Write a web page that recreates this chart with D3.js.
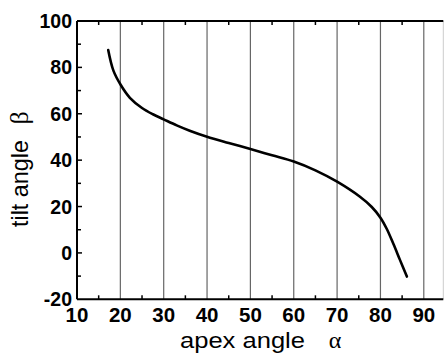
<!DOCTYPE html>
<html>
<head>
<meta charset="utf-8">
<script src="https://cdn.jsdelivr.net/npm/d3@7"></script>
<style>
  html, body { margin: 0; padding: 0; background: #fff; }
  svg { display: block; }
</style>
</head>
<body>
<svg id="chart" width="444" height="353"></svg>
<script>
// ---- data ----
const alpha = [17.2, 18.4, 20.1, 22.2, 25.0, 27.5, 30.0, 33.0, 36.0, 40.0, 45.0, 50.0, 55.0, 60.0, 65.0, 70.0, 75.2, 78.0, 80.0, 81.5, 83.0, 84.5, 86.1];
const beta  = [87.5, 78.6, 72.4, 66.9, 62.5, 59.8, 57.6, 55.0, 52.7, 50.1, 47.4, 44.8, 42.1, 39.4, 35.6, 30.7, 24.3, 19.8, 15.2, 10.2, 3.8, -3.0, -10.2];
const xTicks = [10, 20, 30, 40, 50, 60, 70, 80, 90];
const xMinor = [15, 25, 35, 45, 55, 65, 75, 85];
const yTicks = [-20, 0, 20, 40, 60, 80, 100];
const yMinor = [-10, 10, 30, 50, 70, 90];
const xTitle = "apex angle";
const xSym = "α";
const yTitle = "tilt angle";
const ySym = "β";

const svg = d3.select("#chart");
const x = d3.scaleLinear().domain([10, 94.5]).range([77, 443.3]);
const y = d3.scaleLinear().domain([-20, 100]).range([299.3, 21]);

// vertical grid lines
svg.append("g").selectAll("line").data(xTicks.filter(d => d > 10)).join("line")
  .attr("x1", d => x(d)).attr("x2", d => x(d))
  .attr("y1", y(100)).attr("y2", y(-20))
  .attr("stroke", "#666").attr("stroke-width", 1.2);

// right border (faint)
svg.append("line").attr("x1", x(94.5)).attr("x2", x(94.5))
  .attr("y1", y(100)).attr("y2", y(-20))
  .attr("stroke", "#ccc").attr("stroke-width", 1);

// minor ticks bottom & top
svg.append("g").selectAll("line").data(xMinor).join("line")
  .attr("x1", d => x(d)).attr("x2", d => x(d))
  .attr("y1", y(-20)).attr("y2", y(-20) - 4)
  .attr("stroke", "#000").attr("stroke-width", 1.5);
svg.append("g").selectAll("line").data(xMinor).join("line")
  .attr("x1", d => x(d)).attr("x2", d => x(d))
  .attr("y1", y(100)).attr("y2", y(100) + 4)
  .attr("stroke", "#000").attr("stroke-width", 1.5);

// left axis ticks
svg.append("g").selectAll("line").data(yTicks.filter(d => d > -20 && d < 100)).join("line")
  .attr("x1", x(10)).attr("x2", x(10) + 5)
  .attr("y1", d => y(d)).attr("y2", d => y(d))
  .attr("stroke", "#000").attr("stroke-width", 1.5);
svg.append("g").selectAll("line").data(yMinor).join("line")
  .attr("x1", x(10)).attr("x2", x(10) + 4)
  .attr("y1", d => y(d)).attr("y2", d => y(d))
  .attr("stroke", "#000").attr("stroke-width", 1.5);

// frame lines
svg.append("line").attr("x1", x(10)).attr("x2", x(94.5)).attr("y1", y(100)).attr("y2", y(100))
  .attr("stroke", "#000").attr("stroke-width", 2);
svg.append("line").attr("x1", x(10)).attr("x2", x(94.5)).attr("y1", y(-20)).attr("y2", y(-20))
  .attr("stroke", "#000").attr("stroke-width", 2);
svg.append("line").attr("x1", x(10)).attr("x2", x(10)).attr("y1", y(100)).attr("y2", y(-20))
  .attr("stroke", "#000").attr("stroke-width", 2);

// curve
const pts = alpha.map((a, i) => [a, beta[i]]);
svg.append("path").datum(pts)
  .attr("fill", "none").attr("stroke", "#000").attr("stroke-width", 2.6)
  .attr("stroke-linecap", "round").attr("stroke-linejoin", "round")
  .attr("d", d3.line().x(d => x(d[0])).y(d => y(d[1])).curve(d3.curveCatmullRom.alpha(0.5)));

// tick labels
const font = "'Liberation Sans', Arial, sans-serif";
svg.append("g").selectAll("text").data(yTicks).join("text")
  .attr("x", 72).attr("y", d => y(d)).attr("dy", "0.36em")
  .attr("text-anchor", "end").attr("font-family", font).attr("font-weight", "bold")
  .attr("font-size", 19.5).text(d => d);
svg.append("g").selectAll("text").data(xTicks).join("text")
  .attr("x", d => x(d)).attr("y", 322)
  .attr("text-anchor", "middle").attr("font-family", font).attr("font-weight", "bold")
  .attr("font-size", 20.5).text(d => d);

// axis titles
svg.append("text").attr("x", 180).attr("y", 348)
  .attr("font-family", font).attr("font-size", 22)
  .attr("textLength", 125).attr("lengthAdjust", "spacingAndGlyphs")
  .text(xTitle);
svg.append("text").attr("x", 335).attr("y", 348).attr("text-anchor", "middle")
  .attr("font-family", "'Liberation Serif', 'Times New Roman', serif").attr("font-size", 24)
  .text(xSym);

svg.append("text").attr("transform", "translate(28,227) rotate(-90)")
  .attr("font-family", font).attr("font-size", 24)
  .attr("textLength", 87).attr("lengthAdjust", "spacingAndGlyphs")
  .text(yTitle);
svg.append("text").attr("transform", "translate(28,118) rotate(-90)")
  .attr("text-anchor", "middle")
  .attr("font-family", "'Liberation Serif', 'Times New Roman', serif").attr("font-size", 26)
  .text(ySym);
</script>
</body>
</html>
